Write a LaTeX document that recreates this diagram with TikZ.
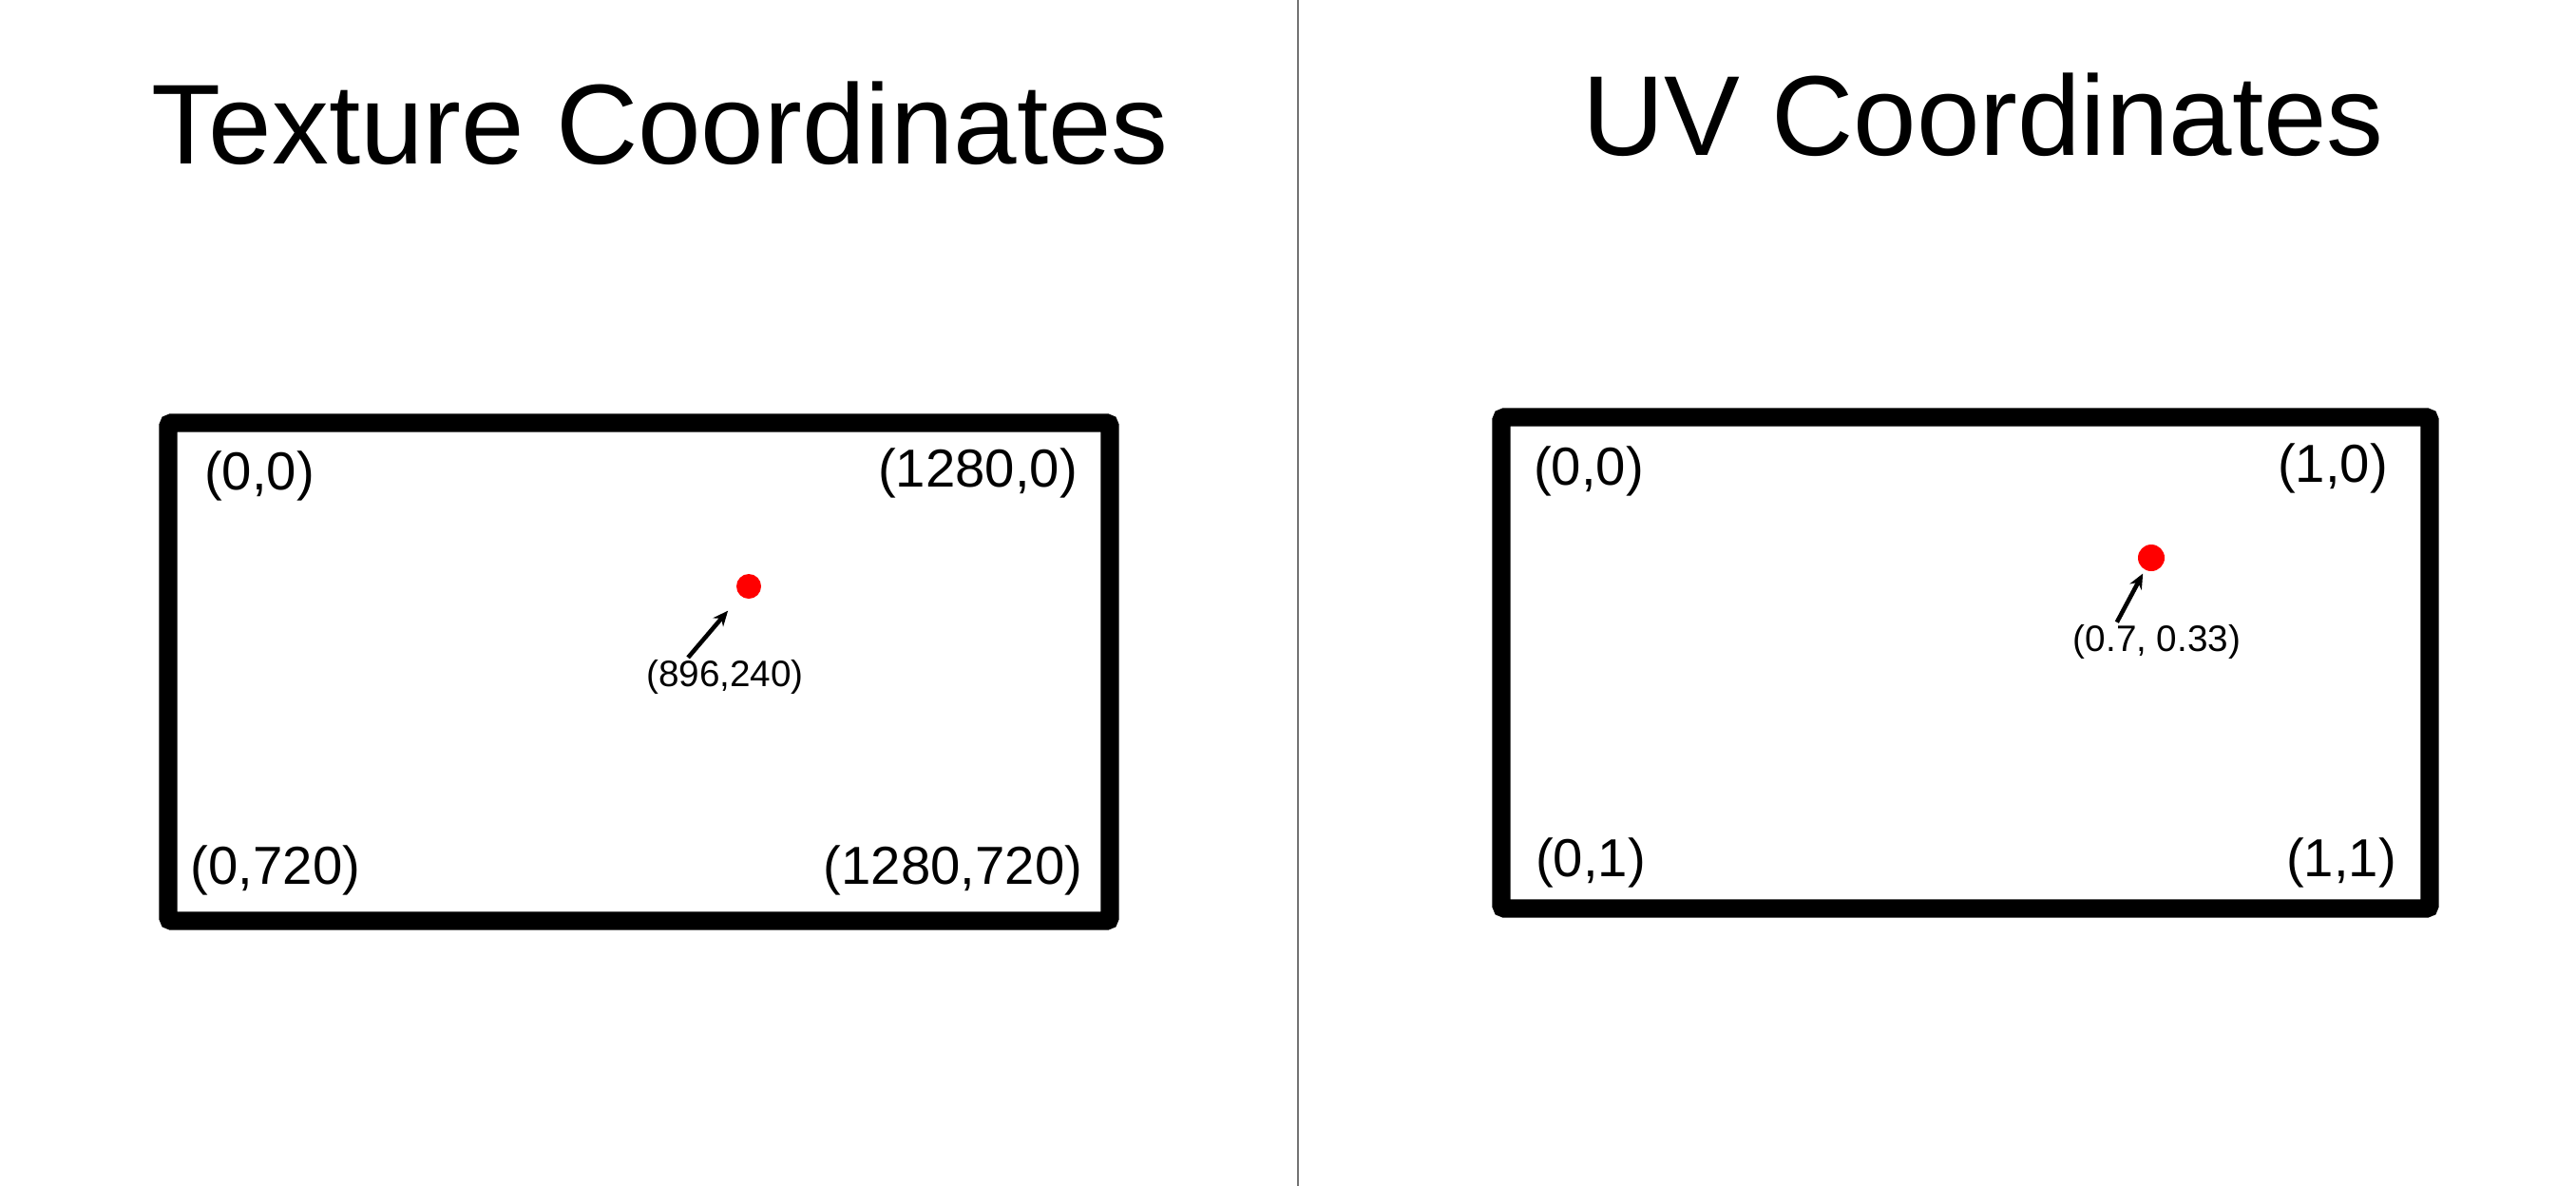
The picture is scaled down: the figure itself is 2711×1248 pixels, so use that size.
\documentclass[tikz,border=0pt]{standalone}
\usepackage{fontspec}
\setmainfont{Liberation Sans}
\usetikzlibrary{arrows.meta}

\begin{document}
\begin{tikzpicture}[
  x=0.01cm, y=-0.01cm,
  >={Stealth[length=1.6mm, width=1.4mm]},
  title/.style={font=\fontsize{34}{40}\selectfont, inner sep=0pt},
  corner/.style={font=\fontsize{16}{19}\selectfont, inner sep=0pt},
  coord/.style={font=\fontsize{11}{13}\selectfont, inner sep=0pt},
  frame/.style={draw=black, line width=5.5pt, rounded corners=1pt},
  spot/.style={circle, fill=red, inner sep=0pt, minimum size=0.26cm},
  ptr/.style={->, line width=1.3pt, shorten <=0.5pt}
]
\useasboundingbox[fill=white] (0,0) rectangle (2711,1248);
\draw[black!55, line width=0.6pt] (1366,0) -- (1366,1248);

% Texture coordinates
\node[title] (ttlTex) at (695,130) {Texture Coordinates};
\draw[frame] (177,445) rectangle (1168,969);
\node[corner] (texTL) at (273,501) {(0,0)};
\node[corner] (texTR) at (1029,498) {(1280,0)};
\node[corner] (texBL) at (290,916) {(0,720)};
\node[corner] (texBR) at (1003,916) {(1280,720)};
\node[spot] (dotTex) at (788,617) {};
\node[coord] (lblTex) at (763,712) {(896,240)};
\draw[ptr, shorten >=2mm] ([xshift=-0.4cm]lblTex.north) -- (dotTex);

% UV coordinates
\node[title] (ttlUV) at (2087,121) {UV Coordinates};
\draw[frame] (1580,439) rectangle (2557,956);
\node[corner] (uvTL) at (1672,496) {(0,0)};
\node[corner] (uvTR) at (2455,493) {(1,0)};
\node[corner] (uvBL) at (1674,908) {(0,1)};
\node[corner] (uvBR) at (2464,908) {(1,1)};
\node[spot, minimum size=0.28cm] (dotUV) at (2264,587) {};
\node[coord] (lblUV) at (2270,675) {(0.7, 0.33)};
\draw[ptr, shorten >=0.4mm] ([xshift=-0.43cm]lblUV.north) -- (dotUV);
\end{tikzpicture}
\end{document}
